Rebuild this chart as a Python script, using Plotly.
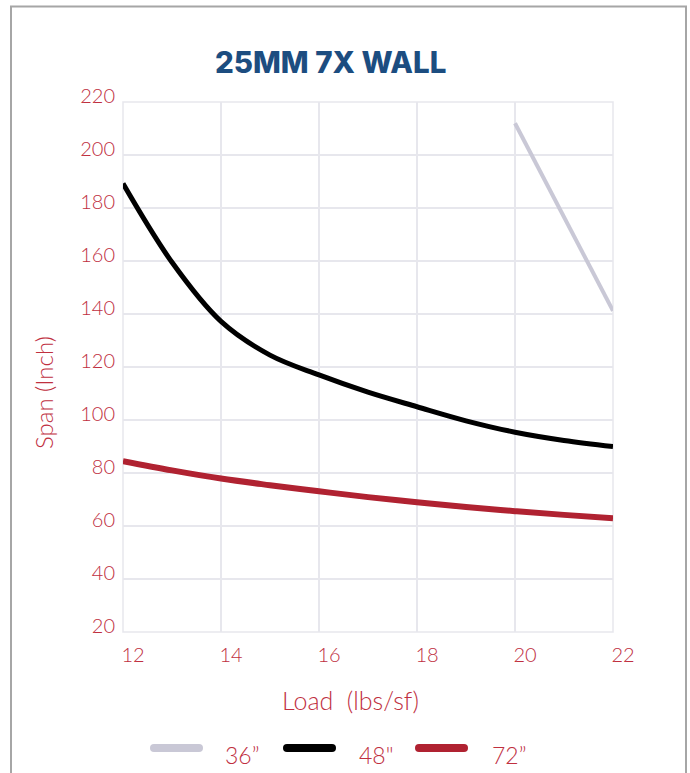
import plotly.graph_objects as go

# ---- data ----
load_48 = [12, 13, 14, 15, 16, 17, 18, 19, 20, 21, 22]
span_48 = [189.2, 159.5, 137.2, 124.5, 117.0, 110.5, 105.0, 99.7, 95.4, 92.3, 90.0]

load_72 = [12, 13, 14, 15, 16, 17, 18, 19, 20, 21, 22]
span_72 = [84.5, 81.0, 77.9, 75.4, 73.1, 70.9, 69.0, 67.2, 65.6, 64.2, 62.9]

load_36 = [20, 22]
span_36 = [212.0, 141.2]

x_ticks = [12, 14, 16, 18, 20, 22]
y_ticks = [20, 40, 60, 80, 100, 120, 140, 160, 180, 200, 220]

series_names = ['36”', '48"', '72”']
series_colors = ['#c9c8d6', '#000000', '#b02231']

TEXT_RED = '#c0303f'
TITLE_BLUE = '#1c4d80'
GRID = '#e7e7ed'
FONT = 'Lato'

W, H = 690, 773
L, R, T, B = 123, 77, 102, 141
PW, PH = W - L - R, H - T - B


def px_x(x):
    return (x - L) / PW


def px_y(y):
    return (H - B - y) / PH


fig = go.Figure()
fig.add_trace(go.Scatter(x=load_36, y=span_36, mode='lines', name=series_names[0],
                         line=dict(color=series_colors[0], width=4), showlegend=False))
fig.add_trace(go.Scatter(x=load_48, y=span_48, mode='lines', name=series_names[1],
                         line=dict(color=series_colors[1], width=5, shape='spline', smoothing=1.0),
                         showlegend=False))
fig.add_trace(go.Scatter(x=load_72, y=span_72, mode='lines', name=series_names[2],
                         line=dict(color=series_colors[2], width=6, shape='spline', smoothing=1.0),
                         showlegend=False))

shapes = []
annotations = []

# outer frame
shapes.append(dict(type='rect', xref='paper', yref='paper',
                   x0=px_x(11), x1=px_x(686), y0=px_y(800), y1=px_y(6.5),
                   line=dict(color='#a6a6a6', width=2), fillcolor='rgba(0,0,0,0)', layer='below'))

# title
annotations.append(dict(text='25MM 7X WALL', xref='paper', yref='paper',
                        x=px_x(330), y=px_y(62), xanchor='center', yanchor='middle',
                        showarrow=False,
                        font=dict(family='Inter', size=29.5, color=TITLE_BLUE, weight=800)))

# axis titles
annotations.append(dict(text='Load  (lbs/sf)', xref='paper', yref='paper',
                        x=px_x(350), y=px_y(700), xanchor='center', yanchor='middle',
                        showarrow=False, font=dict(family=FONT, size=25, color=TEXT_RED, weight=300)))
annotations.append(dict(text='Span (Inch)', xref='paper', yref='paper',
                        x=px_x(43), y=px_y(393), xanchor='center', yanchor='middle',
                        textangle=-90, showarrow=False,
                        font=dict(family=FONT, size=24, color=TEXT_RED, weight=300)))

# manual legend
leg_line_x = [150, 283, 415]
leg_text_x = [223, 357, 490]
for name, color, lx, tx in zip(series_names, series_colors, leg_line_x, leg_text_x):
    cx = lx + 26.5
    path = ('M -22.5 -4 L 22.5 -4 Q 26.5 -4 26.5 0 Q 26.5 4 22.5 4 '
            'L -22.5 4 Q -26.5 4 -26.5 0 Q -26.5 -4 -22.5 -4 Z')
    shapes.append(dict(type='path', xref='paper', yref='paper',
                       xsizemode='pixel', ysizemode='pixel',
                       xanchor=px_x(cx), yanchor=px_y(748), path=path,
                       fillcolor=color, line=dict(width=0)))
    annotations.append(dict(text=name, xref='paper', yref='paper',
                            x=px_x(tx), y=px_y(755), xanchor='left', yanchor='middle',
                            showarrow=False,
                            font=dict(family=FONT, size=23, color=TEXT_RED, weight=300)))

fig.update_layout(
    width=W, height=H,
    margin=dict(l=L, r=R, t=T, b=B),
    paper_bgcolor='white', plot_bgcolor='white',
    shapes=shapes, annotations=annotations,
    showlegend=False,
)
fig.update_xaxes(range=[12, 22], tickvals=x_ticks, ticktext=[str(v) for v in x_ticks],
                 showgrid=True, gridcolor=GRID, gridwidth=1.5, zeroline=False,
                 showline=False, ticks='', ticklabelshift=10, ticklabelstandoff=9,
                 tickfont=dict(family=FONT, size=20, color=TEXT_RED, weight=300))
fig.update_yaxes(range=[20, 220], tickvals=y_ticks, ticktext=[str(v) for v in y_ticks],
                 showgrid=True, gridcolor=GRID, gridwidth=1.5, zeroline=False,
                 showline=False, ticks='', ticklabelshift=-6, ticklabelstandoff=7,
                 tickfont=dict(family=FONT, size=20, color=TEXT_RED, weight=300))
# plot area border (grid lines at the edges)
fig.add_shape(type='rect', xref='paper', yref='paper', x0=0, x1=1, y0=0, y1=1,
              line=dict(color=GRID, width=1.5), layer='below')

fig.write_html('out.html', config={'displayModeBar': False},
               post_script="document.body.style.margin='0';document.body.style.overflow='hidden';")
